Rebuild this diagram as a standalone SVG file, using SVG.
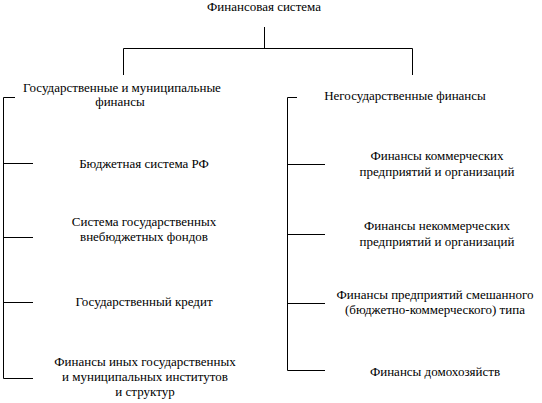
<svg xmlns="http://www.w3.org/2000/svg" width="542" height="403" viewBox="0 0 542 403">
<style>
.c{fill:none;stroke:#000;stroke-width:1}
.t{font-family:'Liberation Serif','DejaVu Serif',serif;font-size:13px;text-anchor:middle;fill:#000}
</style>
<rect width="542" height="403" fill="#fff"/>
<g id="connectors" class="c">
<path d="M264.5 27V48.5M123.5 75V48.5H412.5V75"/>
<path d="M15 97.5H3.5V378.5M3.5 163.5H33M3.5 237.5H33M3.5 302.5H33M3.5 378.5H33"/>
<path d="M297 97.5H287.5V370.5M287.5 164.5H325M287.5 234.5H325M287.5 303.5H325M287.5 370.5H325"/>
</g>
<g class="t">
<g id="root"><text x="264" y="11">Финансовая система</text></g>
<g id="gov"><text x="122" y="92">Государственные и муниципальные</text><text x="120" y="106">финансы</text></g>
<g id="nongov"><text x="405" y="100">Негосударственные финансы</text></g>
<g id="g1"><text x="144" y="168">Бюджетная система РФ</text></g>
<g id="g2"><text x="144" y="226">Система государственных</text><text x="144" y="241">внебюджетных фондов</text></g>
<g id="g3"><text x="144" y="306">Государственный кредит</text></g>
<g id="g4"><text x="145" y="366">Финансы иных государственных</text><text x="145" y="381">и муниципальных институтов</text><text x="145" y="396">и структур</text></g>
<g id="n1"><text x="437" y="160">Финансы коммерческих</text><text x="437" y="176">предприятий и организаций</text></g>
<g id="n2"><text x="437" y="230">Финансы некоммерческих</text><text x="437" y="246">предприятий и организаций</text></g>
<g id="n3"><text x="435" y="299">Финансы предприятий смешанного</text><text x="435" y="314">(бюджетно-коммерческого) типа</text></g>
<g id="n4"><text x="435" y="376">Финансы домохозяйств</text></g>
</g>
</svg>
